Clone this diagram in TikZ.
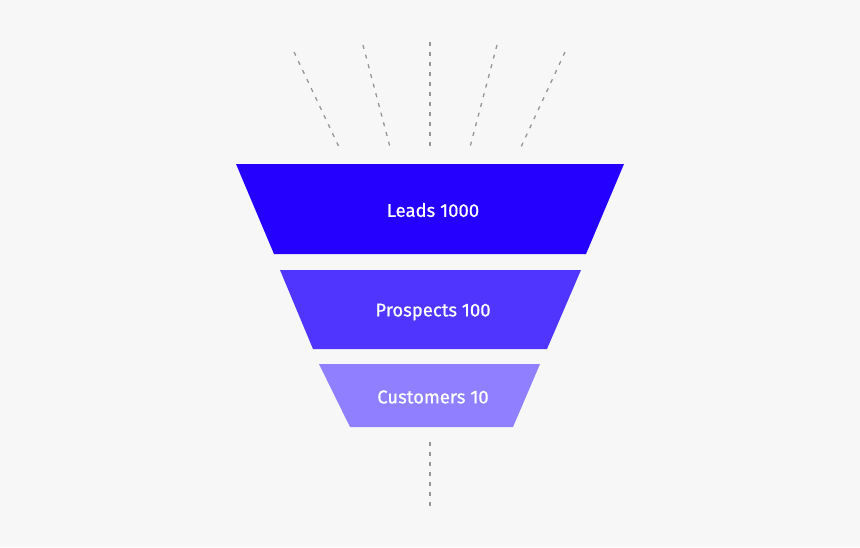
\documentclass[tikz,border=0pt]{standalone}
\usepackage{fontspec}
\setmainfont{Fira Sans}
\newfontfamily\stagefont{Fira Sans}[FakeBold=0.7]
\usepackage{tikz}
\usetikzlibrary{calc}
\definecolor{bgcol}{RGB}{247,247,247}
\definecolor{leadscol}{RGB}{38,0,255}
\definecolor{prospcol}{RGB}{80,53,255}
\definecolor{custcol}{RGB}{144,128,255}
\definecolor{raycol}{RGB}{150,150,150}
\tikzset{
  ray/.style={raycol, line width=1.3pt, dash pattern=on 4pt off 6pt},
  stagetext/.style={text=white, font=\stagefont\fontsize{18.5}{20}\selectfont, inner sep=0pt}
}

\begin{document}
\begin{tikzpicture}[x=1pt,y=-1pt]
                %Background
                \fill[bgcol] (0,0) rectangle (860,547);
                \useasboundingbox (0,0) rectangle (860,547);
                %Rays
                \coordinate (r1a) at (294,52);
                \coordinate (r1b) at (339,147);
                \coordinate (r2a) at (363,45);
                \coordinate (r2b) at (390,147);
                \coordinate (r3a) at (430,42);
                \coordinate (r3b) at (430,147);
                \coordinate (r4a) at (497,45);
                \coordinate (r4b) at (470,147);
                \coordinate (r5a) at (565,52);
                \coordinate (r5b) at (521,147);
                \foreach \i in {1,...,5}
                  \draw[ray] (r\i a) -- (r\i b);
                %Funnel
                \fill[leadscol] (236,164) -- (624,164) -- (586,254) -- (274,254) -- cycle;
                \fill[prospcol] (280,270) -- (581,270) -- (547,349) -- (313,349) -- cycle;
                \fill[custcol] (319,364) -- (540,364) -- (513,427) -- (350,427) -- cycle;
                \node[stagetext] (leads) at (433,210) {Leads 1000};
                \node[stagetext] (prospects) at (433,312) {Prospects 100};
                \node[stagetext] (customers) at (433,397) {Customers 10};
                %Spout
                \coordinate (s1) at (430,442);
                \coordinate (s2) at (430,507);
                \draw[ray] (s1) -- (s2);
\end{tikzpicture}
\end{document}
